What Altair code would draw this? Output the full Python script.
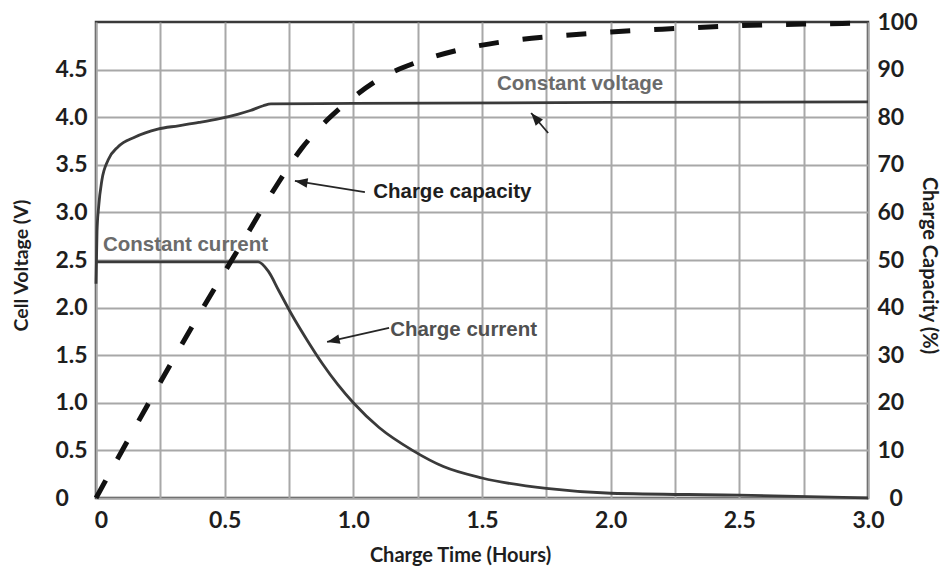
import math
import altair as alt
import pandas as pd

# ---- data ----
volt_t = [0, 0.004, 0.01, 0.023, 0.047, 0.086, 0.15, 0.24, 0.32, 0.40, 0.48, 0.55, 0.60, 0.65, 0.68, 1.0, 2.0, 3.0]
volt_v = [2.25, 2.80, 3.05, 3.34, 3.55, 3.69, 3.79, 3.875, 3.91, 3.945, 3.985, 4.03, 4.07, 4.12, 4.14, 4.145, 4.155, 4.16]

curr_t = [0, 0.63, 0.67, 0.71, 0.76, 0.82, 0.88, 0.94, 1.0, 1.1, 1.23, 1.35, 1.5, 1.75, 2.0, 2.5, 3.0]
curr_v = [2.48, 2.48, 2.38, 2.18, 1.93, 1.66, 1.41, 1.19, 1.0, 0.74, 0.5, 0.33, 0.21, 0.10, 0.05, 0.03, 0.0]

cap_t = [0, 0.2, 0.4, 0.55, 0.7, 0.8, 0.9, 1.0, 1.1, 1.25, 1.4, 1.6, 1.8, 2.0, 2.2, 2.4, 2.6, 2.8, 3.0]
cap_p = [0, 19.5, 38.5, 52, 65.5, 73.5, 79.5, 84.2, 88, 91.6, 94, 96, 97.1, 97.9, 98.5, 99, 99.4, 99.6, 99.8]

note_text = ["Constant current", "Constant voltage", "Charge capacity", "Charge current"]
note_t = [0.027, 1.558, 1.077, 1.143]
note_v = [2.66, 4.35, 3.21, 1.76]

arrow_t0 = [1.045, 1.139, 1.757]
arrow_v0 = [3.214, 1.786, 3.834]
arrow_t1 = [0.773, 0.898, 1.691]
arrow_v1 = [3.33, 1.639, 4.044]

x_ticks = [i * 0.25 for i in range(13)]
y_ticks = [i * 0.5 for i in range(10)]
cap_ticks = [i * 10 for i in range(11)]

W, H = 772, 476
T_MAX, V_MAX, C_MAX = 3.0, 5.0, 100.0

# arrowhead direction (screen) from the data direction
angles = []
for a, b, c, d in zip(arrow_t0, arrow_v0, arrow_t1, arrow_v1):
    dx = (c - a) * W / T_MAX
    dyup = (d - b) * H / V_MAX
    angles.append(math.degrees(math.atan2(dx, dyup)) % 360)

volt_df = pd.DataFrame({"t": volt_t, "v": volt_v})
curr_df = pd.DataFrame({"t": curr_t, "v": curr_v})
cap_df = pd.DataFrame({"t": cap_t, "c": cap_p})
note_df = pd.DataFrame({"t": note_t, "v": note_v, "label": note_text})
arrow_df = pd.DataFrame({"t": arrow_t0, "v": arrow_v0, "t2": arrow_t1, "v2": arrow_v1, "ang": angles})

xscale = alt.Scale(domain=[0, T_MAX], nice=False, zero=False)
yscale = alt.Scale(domain=[0, V_MAX], nice=False)
cscale = alt.Scale(domain=[0, C_MAX], nice=False)

x_axis = alt.Axis(
    values=x_ticks, orient="bottom",
    labelExpr="datum.value % 0.5 == 0 ? (datum.value == 0 ? '0' : format(datum.value, '.1f')) : ''",
    title="Charge Time (Hours)",
    titleX=364, titleY=57, titleBaseline="middle", titleAlign="center", titleFontSize=20,
    labelPadding=11,
    labelOffset={"condition": {"test": "datum.value == 0", "value": 5}, "value": 0},
)
y_axis = alt.Axis(
    values=y_ticks, orient="left",
    labelExpr="datum.value == 0 ? '0' : format(datum.value, '.1f')",
    title="Cell Voltage (V)",
    titleAngle=270, titleX=-75, titleY=243, titleBaseline="middle", titleAlign="center", titleFontSize=19.5,
    labelAlign="left", labelPadding=41, labelBaseline="middle",
)
c_axis = alt.Axis(
    values=cap_ticks, orient="right", grid=False,
    title="Charge Capacity (%)",
    titleAngle=90, titleX=60, titleY=243, titleBaseline="middle", titleAlign="center", titleFontSize=20,
    labelAlign="left", labelBaseline="middle",
    labelPadding={"condition": {"test": "datum.value == 0", "value": 21}, "value": 9},
)

X = alt.X("t:Q", scale=xscale, axis=x_axis)
Y = alt.Y("v:Q", scale=yscale, axis=y_axis)

volt = alt.Chart(volt_df).mark_line(color="#3a3a3a", strokeWidth=2.8, interpolate="monotone").encode(x=X, y=Y)
curr = alt.Chart(curr_df).mark_line(color="#3a3a3a", strokeWidth=2.8, interpolate="monotone").encode(x=X, y=Y)
notes = alt.Chart(note_df).mark_text(
    align="left", baseline="middle", font="Liberation Sans", fontWeight="bold", fontSize=20.5
).encode(
    x=X, y=Y,
    text="label:N",
    color=alt.Color("label:N", legend=None, scale=alt.Scale(
        domain=note_text, range=["#6b6b6b", "#6b6b6b", "#1e1e1e", "#505050"])),
)
arrow_lines = alt.Chart(arrow_df).mark_rule(color="#262626", strokeWidth=1.8).encode(
    x=X, y=Y, x2="t2:Q", y2="v2:Q",
)
arrow_heads = alt.Chart(arrow_df).mark_point(
    shape="M0,0L0.75,2L-0.75,2Z", filled=True, color="#1e1e1e", size=160, opacity=1
).encode(
    x=alt.X("t2:Q", scale=xscale, axis=x_axis),
    y=alt.Y("v2:Q", scale=yscale, axis=y_axis),
    angle=alt.Angle("ang:Q", scale=None),
)

left_layers = alt.layer(volt, curr, arrow_lines, arrow_heads, notes)

cap = alt.Chart(cap_df).mark_line(
    color="#111111", strokeWidth=5, strokeDash=[20, 24], strokeCap="butt", interpolate="monotone"
).encode(
    x=X,
    y=alt.Y("c:Q", scale=cscale, axis=c_axis),
)

chart = alt.layer(left_layers, cap).resolve_scale(y="independent").properties(
    width=W, height=H,
    autosize=alt.AutoSizeParams(type="none"),
    padding={"left": 88, "top": 14, "right": 73, "bottom": 71},
    background="white",
).configure_view(
    stroke="#3a3a3a", strokeWidth=2.5
).configure_axis(
    labelFont="Lato", labelFontWeight="bold", labelFontSize=23, labelColor="#1e1e1e",
    titleFont="Lato", titleFontWeight="bold", titleColor="#1e1e1e",
    ticks=False, tickSize=0, domain=False,
    gridColor="#a8a8a8", gridWidth=2, gridOpacity=1,
    labelFlush=False, labelOverlap=False,
)

chart.save("out.html", embed_options={"renderer": "svg", "actions": False})
